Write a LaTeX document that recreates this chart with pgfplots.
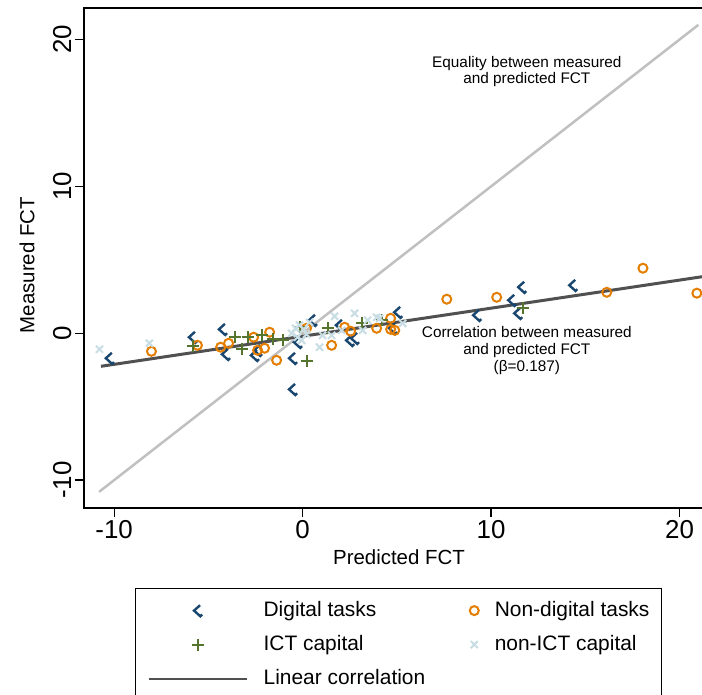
\documentclass[border=0pt]{standalone}
\usepackage{pgfplots}
\pgfplotsset{compat=1.18}
\usepackage{fontspec}
\setmainfont{Liberation Sans}

\definecolor{navy}{RGB}{26,71,111}
\definecolor{dkorange}{RGB}{227,126,0}
\definecolor{fgreen}{RGB}{85,117,47}
\definecolor{ltblue}{RGB}{200,221,228}
\definecolor{fitgray}{RGB}{80,80,80}
\definecolor{eqgray}{RGB}{192,192,192}

% open chevron used by Stata for the digital-task points
\pgfdeclareplotmark{chev}{%
  \pgfpathmoveto{\pgfqpoint{0.4\pgfplotmarksize}{0.9\pgfplotmarksize}}%
  \pgfpathlineto{\pgfqpoint{-0.6\pgfplotmarksize}{0pt}}%
  \pgfpathlineto{\pgfqpoint{0.45\pgfplotmarksize}{-0.95\pgfplotmarksize}}%
  \pgfpathlineto{\pgfqpoint{0.75\pgfplotmarksize}{-0.65\pgfplotmarksize}}%
  \pgfusepathqstroke}

\pgfplotsset{
  legwide/.style={legend image code/.code={\path[draw=none] (0bp,0) -- (98bp,0);
    \draw[##1, only marks] plot coordinates {(49bp,0)};}},
  legnarrow/.style={legend image code/.code={\path[draw=none] (-10bp,0) -- (4bp,0);
    \draw[##1, only marks] plot coordinates {(0bp,0)};}},
  legline/.style={legend image code/.code={\draw[##1, line width=2bp] (0bp,0) -- (98bp,0);}},
}

\begin{document}
\begin{tikzpicture}
\path[use as bounding box] (0,0) rectangle (702bp,-695bp);
\begin{axis}[
  at={(84bp,-508bp)}, anchor=south west,
  scale only axis, width=620bp, height=500bp,
  xmin=-11.6, xmax=21.3, ymin=-11.9, ymax=22.15,
  xtick={-10,0,10,20}, ytick={-10,0,10,20},
  tick align=outside, xtick pos=bottom, ytick pos=left,
  major tick length=9bp,
  every tick/.style={black, line width=1.3bp},
  axis line style={line width=1.5bp},
  ticklabel style={font=\fontsize{26}{30}\selectfont},
  /pgf/number format/assume math mode=true,
  yticklabel style={rotate=90, anchor=south},
  xlabel={Predicted FCT}, ylabel={Measured FCT},
  label style={font=\fontsize{20.5}{24}\selectfont},
  xlabel style={at={(axis description cs:0.508,-0.098)}, anchor=center},
  ylabel style={at={(axis description cs:-0.092,0.486)}, anchor=center},
  legend columns=2,
  legend cell align=left,
  legend style={
    at={(0.0823,-0.16)}, anchor=north west,
    draw=black, line width=1.2bp,
    font=\fontsize{21}{25}\selectfont,
    inner xsep=12bp, inner ysep=11.5bp,
    nodes={inner sep=0pt, text height=16bp, text depth=5bp},
    row sep=13bp,
    /tikz/every odd column/.append style={column sep=16bp},
    /tikz/every even column/.append style={column sep=39bp},
  },
]

\addplot[only marks, mark=chev, mark size=6bp, draw=navy, line width=2.4bp, legwide]
coordinates {
(-10.25,-1.70) (-5.84,-0.27) (-4.25,0.27) (-4.09,-1.43) (-2.55,-1.50)
(-2.39,-1.16) (-0.53,-1.70) (-0.53,-3.82) (-0.27,-0.61) (0.53,0.89)
(1.96,0.55) (2.76,-0.34) (2.50,-0.48) (4.78,0.34) (5.05,1.43)
(9.24,1.23) (11.10,2.25) (11.63,3.14) (11.42,1.36) (14.34,3.27)
};
\addlegendentry{Digital tasks}

\addplot[only marks, mark=o, mark size=4.5bp, draw=dkorange, line width=2bp, legnarrow]
coordinates {
(-8.02,-1.23) (-5.58,-0.82) (-4.35,-0.95) (-3.93,-0.68) (-2.60,-0.27)
(-2.39,-1.16) (-2.02,-1.02) (-1.75,0.07) (-1.38,-1.84) (0.21,0.34)
(1.54,-0.82) (2.23,0.41) (2.55,0.14) (3.93,0.34) (4.67,1.02)
(4.67,0.27) (4.89,0.20) (7.65,2.32) (10.30,2.45) (16.14,2.79)
(18.06,4.43) (20.92,2.73)
};
\addlegendentry{Non-digital tasks}

\addplot[only marks, mark=+, mark size=6bp, draw=fgreen, line width=2bp, legwide]
coordinates {
(-5.79,-0.89) (-3.61,-0.27) (-3.19,-1.09) (-2.92,-0.27) (-2.18,-0.14)
(-1.59,-0.41) (-1.06,-0.48) (-0.16,0.41) (0.21,-1.91) (1.33,0.34)
(3.13,0.68) (4.20,0.89) (11.68,1.70)
};
\addlegendentry{ICT capital}

\addplot[only marks, mark=x, mark size=5bp, draw=ltblue, line width=2bp, legnarrow]
coordinates {
(-10.78,-1.09) (-8.13,-0.68) (-0.58,0.00) (-0.37,0.34) (-0.16,0.55)
(0.05,0.27) (0.21,-0.07) (-0.27,-0.27) (0.37,0.75) (-0.05,-0.48)
(0.90,-0.95) (1.06,-0.14) (1.54,-0.14) (1.70,1.16) (2.07,0.20)
(2.76,1.36) (3.19,0.20) (3.45,0.89) (3.93,1.09) (4.09,1.02)
(5.31,0.68)
};
\addlegendentry{non-ICT capital}

\addplot[no marks, eqgray, line width=2.5bp, forget plot]
coordinates {(-10.8,-10.8) (21.0,21.0)};

\addplot[no marks, fitgray, line width=3bp, legline]
coordinates {(-10.7,-2.25) (21.2,3.85)};
\addlegendentry{Linear correlation}

\node[align=center, font=\fontsize{15.4}{16}\selectfont]
  at (axis cs:11.9,17.8) {Equality between measured\\and predicted FCT};
\node[align=center, font=\fontsize{15.4}{17}\selectfont]
  at (axis cs:11.9,-1.16) {Correlation between measured\\and predicted FCT\\(β=0.187)};
\end{axis}
\end{tikzpicture}
\end{document}
